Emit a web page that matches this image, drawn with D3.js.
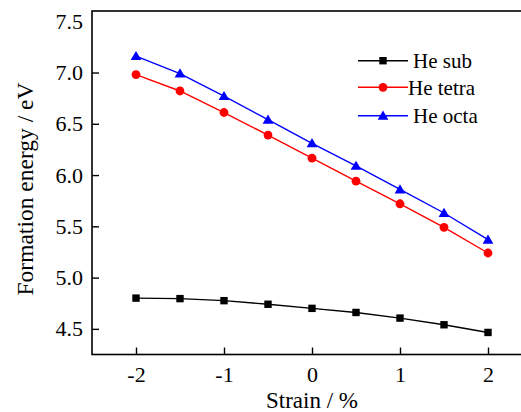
<!DOCTYPE html>
<html><head><meta charset="utf-8">
<script src="https://cdn.jsdelivr.net/npm/d3@7"></script>
<style>body{margin:0;background:#fff}svg{display:block}</style>
</head><body>
<svg id="c" width="521" height="412"></svg>
<script>
const strain = [-2, -1.5, -1, -0.5, 0, 0.5, 1, 1.5, 2];
const heSub = [4.80, 4.795, 4.775, 4.74, 4.70, 4.66, 4.605, 4.54, 4.465];
const heTetra = [6.98, 6.82, 6.61, 6.39, 6.165, 5.94, 5.72, 5.49, 5.24];
const heOcta = [7.16, 6.99, 6.77, 6.54, 6.31, 6.09, 5.86, 5.63, 5.37];
const seriesNames = ["He sub", "He tetra", "He octa"];
const seriesColors = ["#000000", "#ff0000", "#0000ff"];
const seriesShapes = ["square", "circle", "triangle"];
const xTicks = [-2, -1, 0, 1, 2];
const yTicks = [4.5, 5.0, 5.5, 6.0, 6.5, 7.0, 7.5];

const svg = d3.select("#c");
const font = "'Liberation Serif','Times New Roman',serif";
const L = 92, R = 532, T = 11, B = 354.5;
const x = d3.scaleLinear().domain([-2.5, 2.5]).range([L, R]);
const y = d3.scaleLinear().domain([4.25, 7.6]).range([B, T]);

// frame
svg.append("rect").attr("x", L).attr("y", T).attr("width", R - L).attr("height", B - T)
  .attr("fill", "none").attr("stroke", "#000").attr("stroke-width", 1.6);

const xa = svg.append("g").attr("transform", `translate(0,${B})`)
  .call(d3.axisBottom(x).tickValues(xTicks).tickSize(-7).tickPadding(12).tickFormat(d => String(d)));
const ya = svg.append("g").attr("transform", `translate(${L},0)`)
  .call(d3.axisLeft(y).tickValues(yTicks).tickSize(-7).tickPadding(9).tickFormat(d3.format(".1f")));
[xa, ya].forEach(a => {
  a.select(".domain").remove();
  a.selectAll("line").attr("stroke", "#000").attr("stroke-width", 1.4);
  a.selectAll("text").attr("font-family", font).attr("font-size", 22).attr("fill", "#000");
});
ya.selectAll(".tick").filter(d => d === 7.5).select("line").remove();
xa.selectAll("text").attr("dy", "0.71em");

svg.append("text").attr("x", 312).attr("y", 408).attr("text-anchor", "middle")
  .attr("font-family", font).attr("font-size", 23).text("Strain / %");
svg.append("text").attr("transform", "translate(33,189) rotate(-90)").attr("text-anchor", "middle")
  .attr("font-family", font).attr("font-size", 23.5).text("Formation energy / eV");

const allSeries = [heSub, heTetra, heOcta];
function marker(g, shape, color, cx, cy) {
  if (shape === "square") g.append("rect").attr("x", cx - 3.7).attr("y", cy - 3.7).attr("width", 7.4).attr("height", 7.4).attr("fill", color);
  else if (shape === "circle") g.append("circle").attr("cx", cx).attr("cy", cy).attr("r", 4.4).attr("fill", color);
  else g.append("path").attr("d", `M${cx},${cy - 5.2}L${cx + 5.4},${cy + 4}L${cx - 5.4},${cy + 4}Z`).attr("fill", color);
}
const line = d3.line().x(d => x(d[0])).y(d => y(d[1]));
allSeries.forEach((vals, i) => {
  const pts = strain.map((s, j) => [s, vals[j]]);
  svg.append("path").datum(pts).attr("d", line).attr("fill", "none")
    .attr("stroke", seriesColors[i]).attr("stroke-width", 1.4);
  const g = svg.append("g");
  pts.forEach(p => marker(g, seriesShapes[i], seriesColors[i], x(p[0]), y(p[1])));
});

// legend
const legY = [60.7, 87.3, 115.7];
const legTextX = [413, 408, 413];
seriesNames.forEach((n, i) => {
  const g = svg.append("g");
  g.append("line").attr("x1", 358).attr("x2", 408).attr("y1", legY[i]).attr("y2", legY[i])
    .attr("stroke", seriesColors[i]).attr("stroke-width", 1.4);
  marker(g, seriesShapes[i], seriesColors[i], 383, legY[i]);
  g.append("text").attr("x", legTextX[i]).attr("y", legY[i]).attr("dy", "0.35em")
    .attr("font-family", font).attr("font-size", 21).text(n);
});
</script>
</body></html>
